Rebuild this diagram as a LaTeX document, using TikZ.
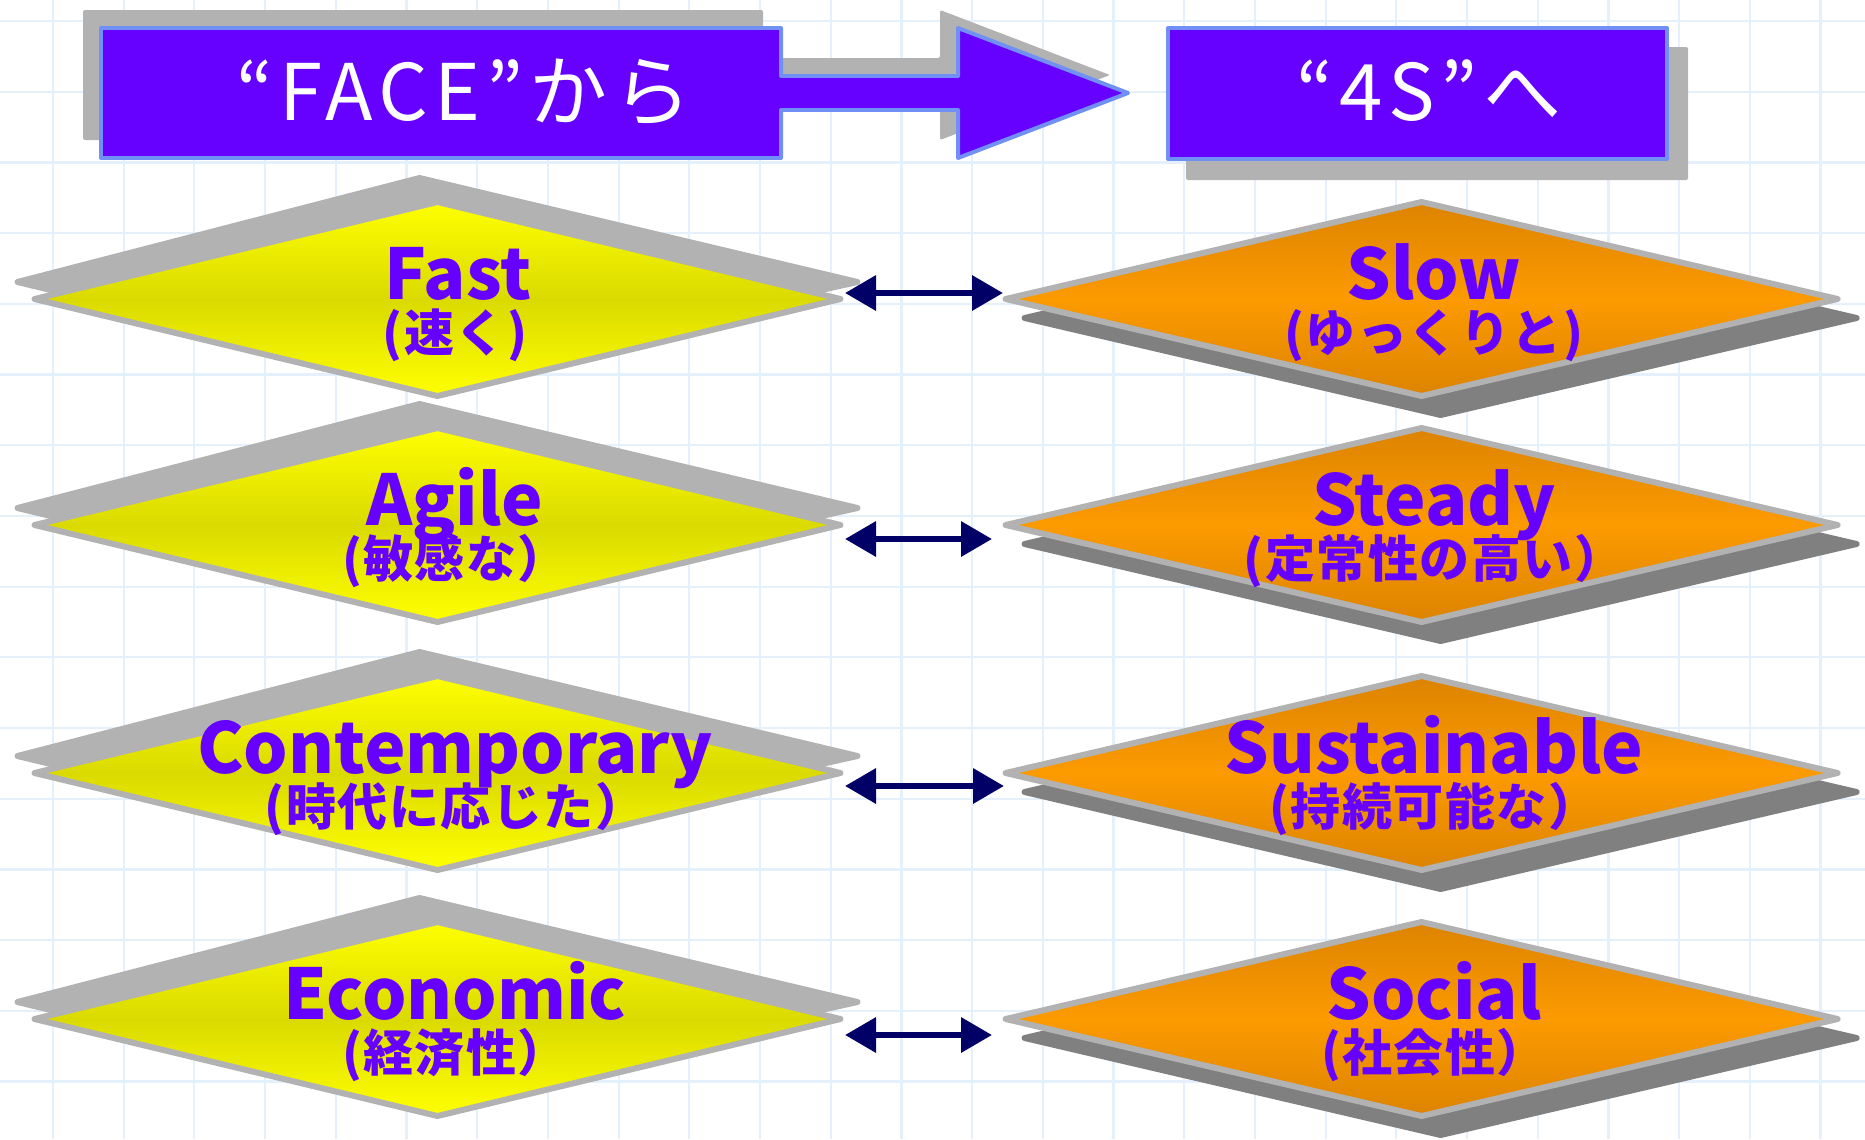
\documentclass[tikz,border=0pt]{standalone}
\usepackage{fontspec}
\usetikzlibrary{arrows.meta}
\setmainfont{Noto Sans CJK JP}
\newfontfamily\hdrfont[LetterSpace=8]{Noto Sans CJK JP}
\newfontfamily\dfont{Noto Sans CJK JP}
\newfontfamily\jfont[LetterSpace=3]{Noto Sans CJK JP}
\definecolor{hdrfill}{HTML}{6600FF}
\definecolor{hdrline}{HTML}{7090F5}
\definecolor{shlight}{HTML}{B2B2B2}
\definecolor{shdark}{HTML}{808080}
\definecolor{txt}{HTML}{6600FF}
\definecolor{navy}{HTML}{000066}
\definecolor{gridc}{HTML}{E4F0FC}
\definecolor{ylw}{HTML}{FFFF00}
\definecolor{ylwd}{HTML}{DADA00}
\definecolor{org}{HTML}{FC9A00}
\definecolor{orgd}{HTML}{DC8300}
\tikzset{
  gridline/.style={gridc, line width=2.2},
  hdrshape/.style={draw=hdrline, fill=hdrfill, line width=4, line join=round},
  hdrshadow/.style={fill=shlight, rounded corners=2},
  hdrtext/.style={text=white, font=\hdrfont\fontsize{78bp}{90bp}\selectfont, anchor=base, inner sep=0},
  lshadow/.style={draw=shlight, fill=shlight, line width=6, line join=round},
  rshadow/.style={draw=shdark, fill=shdark, line width=6, line join=round},
  lfront/.style={draw=shlight, line width=6, line join=round, top color=ylw, bottom color=ylw, middle color=ylwd},
  rfront/.style={draw=shlight, line width=6, line join=round, top color=orgd, bottom color=orgd, middle color=org},
  entext/.style={text=txt, font=\dfont\bfseries\fontsize{70bp}{80bp}\selectfont, anchor=base, inner sep=0},
  jptext/.style={text=txt, font=\jfont\bfseries\fontsize{50bp}{60bp}\selectfont, anchor=base, inner sep=0},
  biarrow/.style={navy, line width=6.5, {Triangle[length=31bp,width=34bp]}-{Triangle[length=31bp,width=34bp]}}
}
\begin{document}
\begin{tikzpicture}[x=1bp, y=-1bp]
\useasboundingbox (0,0) rectangle (1865,1139);
\fill[white] (0,0) rectangle (1865,1139);
% grid
\foreach \i in {0,...,25} \draw[gridline] (53+70.7*\i,0) -- (53+70.7*\i,1139);
\foreach \j in {0,...,15} \draw[gridline] (0,21+70.7*\j) -- (1865,21+70.7*\j);
% header
\path[hdrshadow, shift={(-18,-18)}] (101,28) -- (781,28) -- (781,76) -- (958,76) -- (958,28) -- (1128,93) -- (958,158) -- (958,110) -- (781,110) -- (781,158) -- (101,158) -- cycle;
\path[hdrshape] (101,28) -- (781,28) -- (781,76) -- (958,76) -- (958,28) -- (1128,93) -- (958,158) -- (958,110) -- (781,110) -- (781,158) -- (101,158) -- cycle;
\path[hdrshadow] (1186,47) rectangle (1688,180);
\path[hdrshape] (1168,28) rectangle (1667,159);
\node[hdrtext] (face) at (464,120) {“FACE”から};
\node[hdrtext] (fours) at (1429,120) {“4S”へ};
% left diamonds
\foreach \cy in {299,525,773,1019} {
  \path[lshadow] (419.5,\cy-121) -- (857.5,\cy-17) -- (419.5,\cy+80) -- (17.5,\cy-17) -- cycle;
  \path[lfront] (437.5,\cy-97) -- (840.5,\cy) -- (437.5,\cy+97) -- (34.5,\cy) -- cycle;
}
% right diamonds
\foreach \cy in {299,525,773,1019} {
  \path[rshadow] (1440.6,\cy-78) -- (1856.6,\cy+19) -- (1440.6,\cy+116) -- (1024.6,\cy+19) -- cycle;
  \path[rfront] (1421.6,\cy-97) -- (1837.6,\cy) -- (1421.6,\cy+97) -- (1005.6,\cy) -- cycle;
}
% texts
\node[entext] (fast) at (458,299) {Fast};
\node[jptext] (fastj) at (455,351) {(速く)};
\node[entext] (agile) at (455,525) {Agile};
\node[jptext] (agilej) at (455,577) {(敏感な）};
\node[entext] (contemp) at (455,773) {Contemporary};
\node[jptext] (contempj) at (455,825) {(時代に応じた）};
\node[entext] (econ) at (455,1019) {Economic};
\node[jptext] (econj) at (455,1071) {(経済性）};
\node[entext] (slow) at (1434,299) {Slow};
\node[jptext] (sloww) at (1434,351) {(ゆっくりと)};
\node[entext] (steady) at (1434,525) {Steady};
\node[jptext] (steadyj) at (1434,577) {(定常性の高い）};
\node[entext] (sust) at (1434,773) {Sustainable};
\node[jptext] (sustj) at (1434,825) {(持続可能な）};
\node[entext] (social) at (1434,1019) {Social};
\node[jptext] (socialj) at (1434,1071) {(社会性）};
% connectors
\coordinate (a1l) at (845,293); \coordinate (a1r) at (1003,293);
\coordinate (a2l) at (845,539); \coordinate (a2r) at (992,539);
\coordinate (a3l) at (845,786); \coordinate (a3r) at (1004,786);
\coordinate (a4l) at (845,1035); \coordinate (a4r) at (992,1035);
\draw[biarrow] (a1l) -- (a1r);
\draw[biarrow] (a2l) -- (a2r);
\draw[biarrow] (a3l) -- (a3r);
\draw[biarrow] (a4l) -- (a4r);
\end{tikzpicture}
\end{document}
